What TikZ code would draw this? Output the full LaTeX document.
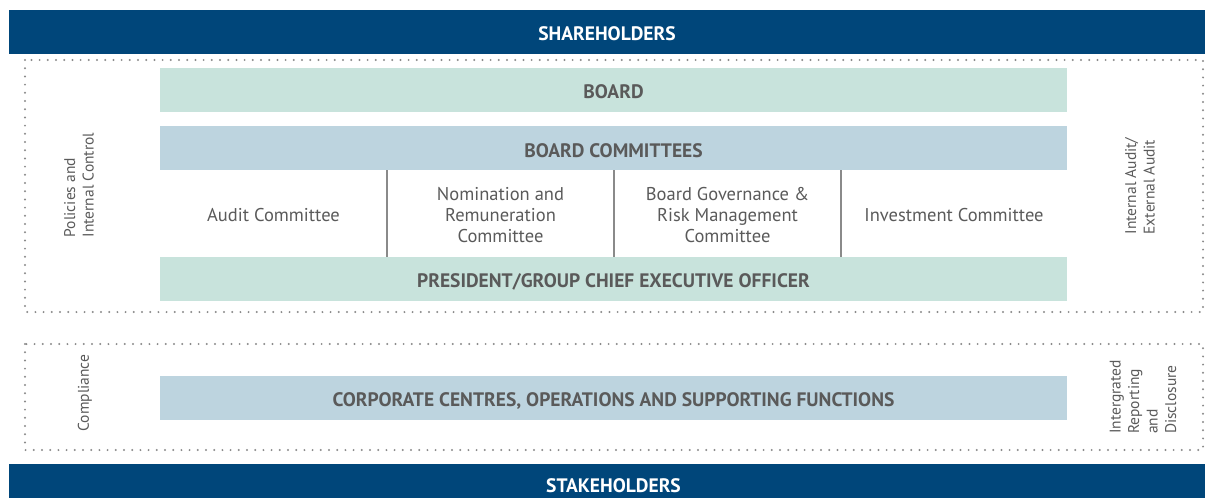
\documentclass[tikz,border=0pt]{standalone}
\usepackage{fontspec}
\setmainfont{PT Sans}
\usepackage{xcolor}
\usetikzlibrary{positioning}
\definecolor{NavyBar}{HTML}{00467A}
\definecolor{MintBand}{HTML}{C8E3DC}
\definecolor{SkyBand}{HTML}{BDD4DF}
\definecolor{InkGray}{HTML}{5A5A5A}
\definecolor{DotGray}{HTML}{8A8A8A}
\tikzset{
  navyB/.style={fill=NavyBar, text=white, inner sep=0pt,
                minimum width=1196pt, minimum height=44pt,
                text height=17.6pt, text depth=0pt,
                font=\fontsize{19.5}{21}\selectfont\bfseries},
  mintB/.style={fill=MintBand, text=InkGray, inner sep=0pt,
                minimum width=907pt, minimum height=44pt,
                text height=17.6pt, text depth=0pt,
                font=\fontsize{19.5}{21}\selectfont\bfseries},
  skyB/.style={fill=SkyBand, text=InkGray, inner sep=0pt,
               minimum width=907pt, minimum height=44pt,
               text height=17.6pt, text depth=0pt,
               font=\fontsize{19.5}{21}\selectfont\bfseries},
  cmte/.style={text=InkGray, align=center, inner sep=0pt,
               font=\fontsize{18.5}{21}\selectfont},
  sideT/.style={text=InkGray, align=left, rotate=90, inner sep=0pt,
                font=\fontsize{15.5}{18.5}\selectfont},
  dotbox/.style={draw=DotGray, line width=2.2pt, line cap=round,
                 dash pattern=on 0pt off 8.2pt},
  divider/.style={draw=DotGray, line width=1.2pt},
}
\begin{document}
\begin{tikzpicture}[x=1pt, y=-1pt]
    \useasboundingbox (0,0) rectangle (1205,498);
    %% outer bars
    \node[navyB] (share) at (607,32) {SHAREHOLDERS};
    \fill[NavyBar] (9,464) rectangle (1205,498);
    \node[text=white, inner sep=0pt, text height=17.6pt, text depth=0pt,
          font=\fontsize{19.5}{21}\selectfont\bfseries] (stake) at (613.5,484) {STAKEHOLDERS};
    %% dotted frames
    \draw[dotbox] (25,60) rectangle (1203,312);
    \draw[dotbox] (25,344) rectangle (1203,450);
    %% bands
    \node[mintB] (board) at (613.5,90) {BOARD};
    \node[skyB, below=14pt of board] (cmtes) {BOARD COMMITTEES};
    \node[mintB] (ceo) at (613.5,279) {PRESIDENT/GROUP CHIEF EXECUTIVE OFFICER};
    \node[skyB] (corp) at (613.5,398) {CORPORATE CENTRES, OPERATIONS AND SUPPORTING FUNCTIONS};
    %% committee row
    \foreach \x/\n in {387/d1,614/d2,841/d3}{
      \coordinate (\n t) at (\x,170);
      \coordinate (\n b) at (\x,257);
      \draw[divider] (\n t) -- (\n b);
    }
    \node[cmte] (audit) at (273.5,215) {Audit Committee};
    \node[cmte] (nomin) at (500.5,215) {Nomination and\\Remuneration\\Committee};
    \node[cmte] (govern) at (727.5,215) {Board Governance \&\\Risk Management\\Committee};
    \node[cmte] (invest) at (954,215) {Investment Committee};
    %% side labels
    \node[sideT] (policy) at (79,185) {Policies and\\Internal Control};
    \node[sideT] (iaudit) at (1140,186) {Internal Audit/\\External Audit};
    \node[sideT] (comply) at (85,393) {Compliance};
    \node[sideT] (report) at (1143,397) {Intergrated\\Reporting\\and\\Disclosure};
  \end{tikzpicture}
\end{document}
